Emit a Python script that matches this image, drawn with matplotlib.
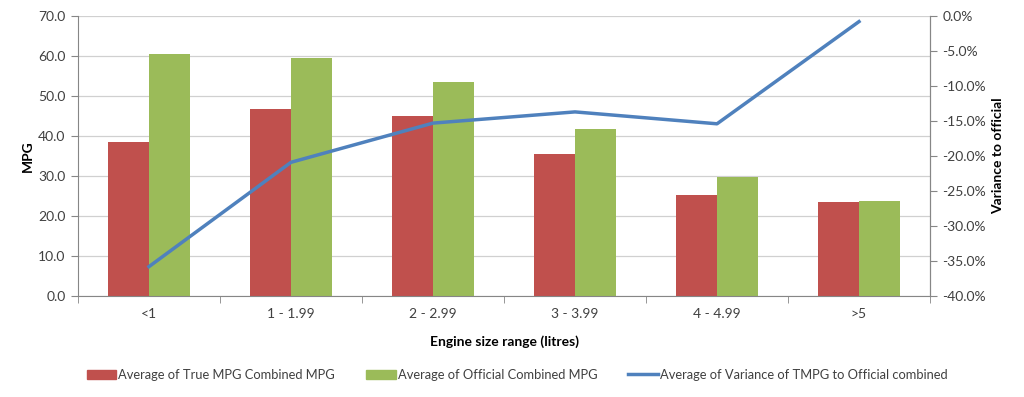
import matplotlib
matplotlib.use("Agg")
import matplotlib.pyplot as plt
from matplotlib.ticker import FuncFormatter, MultipleLocator, FixedLocator
from matplotlib.patches import Patch
from matplotlib.lines import Line2D
import numpy as np

plt.rcParams['font.family'] = ['Lato', 'DejaVu Sans']

categories = ["<1", "1 - 1.99", "2 - 2.99", "3 - 3.99", "4 - 4.99", ">5"]
true_mpg = [38.5, 46.8, 44.9, 35.6, 25.3, 23.5]
official_mpg = [60.4, 59.6, 53.5, 41.8, 29.8, 23.7]
variance_pct = [-35.8, -20.9, -15.3, -13.7, -15.4, -0.8]

RED = "#C0504D"
GREEN = "#9BBB59"
BLUE = "#4F81BD"
GRID = "#D0D0D0"
TXT = "#404040"

fig = plt.figure(figsize=(10.24, 3.97), dpi=100)
ax = fig.add_axes([78/1024, 1-296/397, (930-78)/1024, 280/397])
x = np.arange(len(categories))
w = 0.2857
ax.bar(x - w/2, true_mpg, width=w, color=RED, zorder=2)
ax.bar(x + w/2, official_mpg, width=w, color=GREEN, zorder=2)
ax.set_xlim(-0.5, len(categories) - 0.5)
ax.set_ylim(0, 70)
ax.yaxis.set_major_locator(MultipleLocator(10))
ax.yaxis.set_major_formatter(FuncFormatter(lambda v, p: f"{v:.1f}"))
ax.grid(axis='y', color=GRID, linewidth=0.9, zorder=0)
ax.set_axisbelow(True)
ax.set_xticks(x)
ax.set_xticklabels(categories)
ax.tick_params(axis='x', which='major', length=0, pad=9, labelsize=10, labelcolor=TXT)
ax.xaxis.set_minor_locator(FixedLocator(np.arange(-0.5, len(categories), 1)))
ax.tick_params(axis='x', which='minor', length=5, color='#868686', direction='out')
ax.tick_params(axis='y', length=5, color='#868686', labelsize=10, labelcolor=TXT, pad=4)
ax.spines['top'].set_visible(False)
for s in ['left', 'bottom', 'right']:
    ax.spines[s].set_color('#868686')
ax.set_ylabel("MPG", fontweight='bold', fontsize=10, labelpad=3)
ax.set_xlabel("Engine size range (litres)", fontweight='bold', fontsize=10, labelpad=11)

ax2 = ax.twinx()
ax2.plot(x, variance_pct, color=BLUE, linewidth=2.5, zorder=3)
ax2.set_ylim(-40, 0)
ax2.yaxis.set_major_locator(MultipleLocator(5))
ax2.yaxis.set_major_formatter(FuncFormatter(lambda v, p: f"{v:.1f}%"))
ax2.tick_params(axis='y', length=5, color='#868686', labelsize=10, labelcolor=TXT, pad=4)
ax2.spines['top'].set_visible(False)
ax2.spines['left'].set_visible(False)
ax2.spines['bottom'].set_visible(False)
ax2.spines['right'].set_color('#868686')
ax2.set_ylabel("Variance to official", fontweight='bold', fontsize=10, labelpad=4)

handles = [Patch(color=RED), Patch(color=GREEN), Line2D([0], [0], color=BLUE, linewidth=2.5)]
labels = ["Average of True MPG Combined MPG", "Average of Official Combined MPG",
          "Average of Variance of TMPG to Official combined"]
fig.legend(handles, labels, loc='center', bbox_to_anchor=(517/1024, 1-375/397), ncol=3,
           frameon=False, fontsize=9.3, handlelength=2.3, handletextpad=0.15, columnspacing=2.4,
           labelcolor=TXT)

fig.savefig("out.png", dpi=100)
